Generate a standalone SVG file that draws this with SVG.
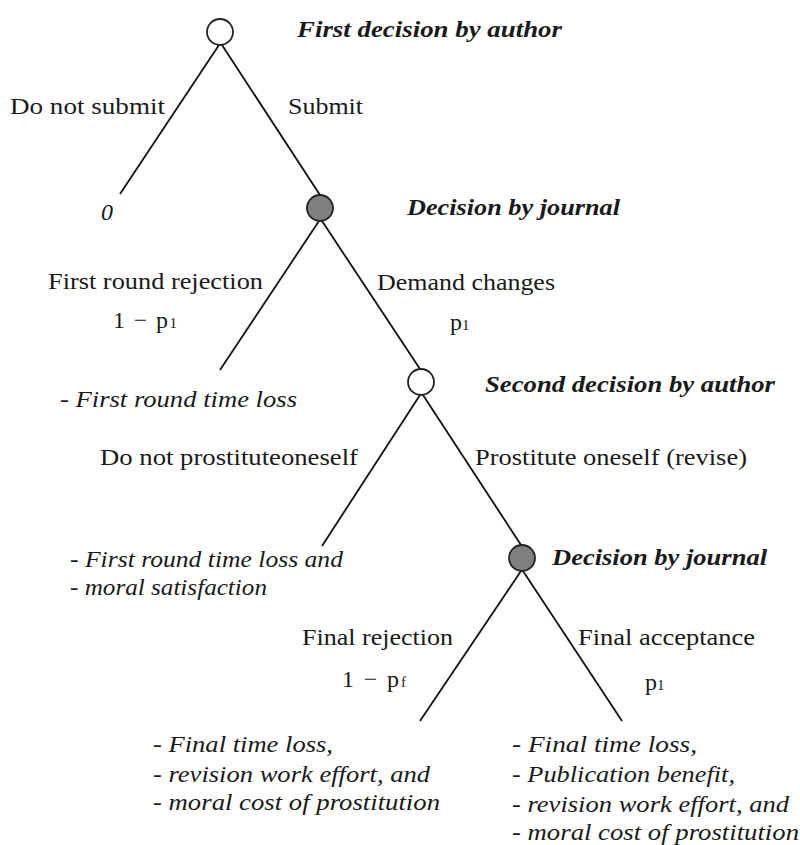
<svg xmlns="http://www.w3.org/2000/svg" width="800" height="845" viewBox="0 0 800 845">
<style>
text{font-family:"Liberation Serif","Times New Roman",serif;font-size:24px;fill:#1a1a1a}
.h{font-weight:bold;font-style:italic;font-size:23px}
.i{font-style:italic}
.sub{font-size:15px}
.e{stroke:#111;stroke-width:1.8;fill:none}
.o{fill:#fff;stroke:#222;stroke-width:1.8}
.g{fill:#7f7f7f;stroke:#222;stroke-width:1.8}
</style>
<rect width="800" height="845" fill="#fff"/>
<g id="connectors">
<line class="e" x1="219" y1="45" x2="120" y2="194"/>
<line class="e" x1="222" y1="45" x2="320" y2="195"/>
<line class="e" x1="319" y1="221" x2="220" y2="370"/>
<line class="e" x1="322" y1="221" x2="420" y2="369"/>
<line class="e" x1="420" y1="395" x2="322" y2="546"/>
<line class="e" x1="423" y1="395" x2="521" y2="545"/>
<line class="e" x1="521" y1="571" x2="420" y2="721"/>
<line class="e" x1="523" y1="571" x2="622" y2="721"/>
</g>
<g id="n1"><circle class="o" cx="220" cy="32" r="13"/><text class="h" x="297" y="37" textLength="265" lengthAdjust="spacingAndGlyphs">First decision by author</text></g>
<g id="n2"><circle class="g" cx="320" cy="208" r="13"/><text class="h" x="407" y="215" textLength="213" lengthAdjust="spacingAndGlyphs">Decision by journal</text></g>
<g id="n3"><circle class="o" cx="421" cy="382" r="13"/><text class="h" x="485" y="392" textLength="290" lengthAdjust="spacingAndGlyphs">Second decision by author</text></g>
<g id="n4"><circle class="g" cx="522" cy="558" r="13"/><text class="h" x="552" y="565" textLength="215" lengthAdjust="spacingAndGlyphs">Decision by journal</text></g>
<g id="labels">
<text x="10" y="114" textLength="155" lengthAdjust="spacingAndGlyphs">Do not submit</text>
<text x="288" y="114" textLength="75" lengthAdjust="spacingAndGlyphs">Submit</text>
<text class="i" x="101" y="220">0</text>
<text x="48" y="289" textLength="215" lengthAdjust="spacingAndGlyphs">First round rejection</text>
<text x="113" y="328" textLength="64" lengthAdjust="spacing">1 −  p<tspan class="sub">1</tspan></text>
<text x="377" y="290" textLength="178" lengthAdjust="spacingAndGlyphs">Demand changes</text>
<text x="450" y="330">p<tspan class="sub">1</tspan></text>
<text class="i" x="60" y="407" textLength="237" lengthAdjust="spacingAndGlyphs">- First round time loss</text>
<text x="100" y="465" textLength="258" lengthAdjust="spacingAndGlyphs">Do not prostituteoneself</text>
<text x="475" y="465" textLength="272" lengthAdjust="spacingAndGlyphs">Prostitute oneself (revise)</text>
<text class="i" x="70" y="567" textLength="273" lengthAdjust="spacingAndGlyphs">- First round time loss and</text>
<text class="i" x="70" y="595" textLength="197" lengthAdjust="spacingAndGlyphs">- moral satisfaction</text>
<text x="302" y="645" textLength="151" lengthAdjust="spacingAndGlyphs">Final rejection</text>
<text x="342" y="687" textLength="64" lengthAdjust="spacing">1 −  p<tspan class="sub">f</tspan></text>
<text x="578" y="645" textLength="177" lengthAdjust="spacingAndGlyphs">Final acceptance</text>
<text x="645" y="690">p<tspan class="sub">1</tspan></text>
<text class="i" x="153" y="752" textLength="180" lengthAdjust="spacingAndGlyphs">- Final time loss,</text>
<text class="i" x="153" y="782" textLength="277" lengthAdjust="spacingAndGlyphs">- revision work effort, and</text>
<text class="i" x="153" y="810" textLength="287" lengthAdjust="spacingAndGlyphs">- moral cost of prostitution</text>
<text class="i" x="512" y="752" textLength="185" lengthAdjust="spacingAndGlyphs">- Final time loss,</text>
<text class="i" x="512" y="782" textLength="223" lengthAdjust="spacingAndGlyphs">- Publication benefit,</text>
<text class="i" x="512" y="812" textLength="277" lengthAdjust="spacingAndGlyphs">- revision work effort, and</text>
<text class="i" x="512" y="840" textLength="287" lengthAdjust="spacingAndGlyphs">- moral cost of prostitution</text>
</g>
</svg>
